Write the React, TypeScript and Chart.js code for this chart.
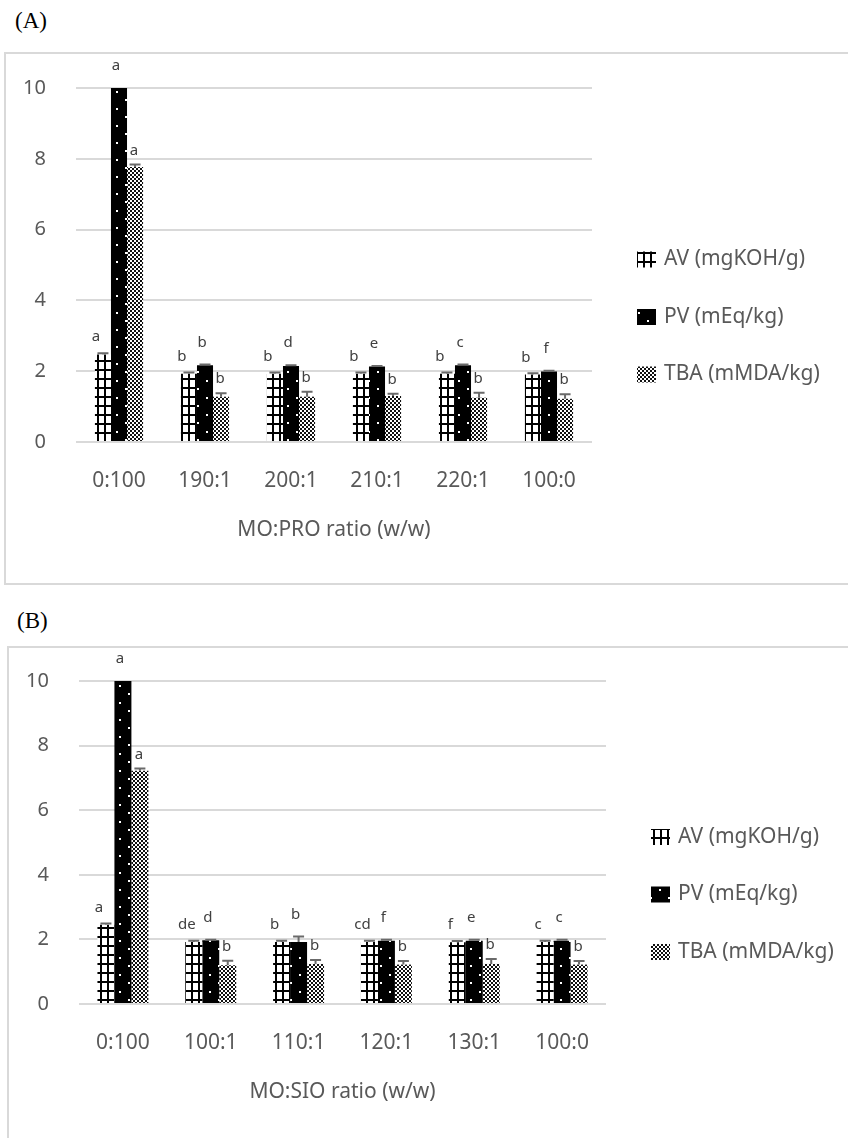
import React, { useEffect, useRef } from 'react';
import { Chart, registerables } from 'chart.js';

Chart.register(...registerables);

// ---------- shared ----------
const SERIES = ['AV (mgKOH/g)', 'PV (mEq/kg)', 'TBA (mMDA/kg)'];
const Y_MIN = 0;
const Y_MAX = 10;
const Y_STEP = 2;

// ---------- panel A ----------
const CATEGORIES_A = ['0:100', '190:1', '200:1', '210:1', '220:1', '100:0'];
const AV_A = [2.47, 1.93, 1.93, 1.93, 1.93, 1.91];
const AV_ERR_A = [0.04, 0.03, 0.03, 0.03, 0.03, 0.03];
const PV_A = [10, 2.17, 2.15, 2.13, 2.17, 1.99];
const PV_ERR_A = [0, 0.02, 0.02, 0.02, 0.02, 0.02];
const TBA_A = [7.77, 1.28, 1.28, 1.3, 1.25, 1.22];
const TBA_ERR_A = [0.07, 0.1, 0.14, 0.06, 0.14, 0.13];
const AV_LETTERS_A = ['a', 'b', 'b', 'b', 'b', 'b'];
const PV_LETTERS_A = ['a', 'b', 'd', 'e', 'c', 'f'];
const TBA_LETTERS_A = ['a', 'b', 'b', 'b', 'b', 'b'];
const X_TITLE_A = 'MO:PRO ratio (w/w)';

// ---------- panel B ----------
const CATEGORIES_B = ['0:100', '100:1', '110:1', '120:1', '130:1', '100:0'];
const AV_B = [2.45, 1.92, 1.92, 1.92, 1.91, 1.92];
const AV_ERR_B = [0.04, 0.04, 0.04, 0.04, 0.04, 0.04];
const PV_B = [10, 1.97, 1.92, 1.96, 1.96, 1.96];
const PV_ERR_B = [0, 0.02, 0.17, 0.03, 0.03, 0.03];
const TBA_B = [7.22, 1.2, 1.24, 1.22, 1.24, 1.22];
const TBA_ERR_B = [0.07, 0.14, 0.12, 0.11, 0.15, 0.11];
const AV_LETTERS_B = ['a', 'de', 'b', 'cd', 'f', 'c'];
const PV_LETTERS_B = ['a', 'd', 'b', 'f', 'e', 'c'];
const TBA_LETTERS_B = ['a', 'b', 'b', 'b', 'b', 'b'];
const X_TITLE_B = 'MO:SIO ratio (w/w)';

const FONT = '"Noto Sans", "DejaVu Sans", sans-serif';
const TEXT_GRAY = '#595959';
const LETTER_DX = [-7, -3, -1];
const LETTER_DY = [16, 22, 14];

function makeTiles(): HTMLCanvasElement[] {
  const mk = (w: number, h: number, draw: (g: CanvasRenderingContext2D) => void) => {
    const c = document.createElement('canvas');
    c.width = w;
    c.height = h;
    const g = c.getContext('2d') as CanvasRenderingContext2D;
    draw(g);
    return c;
  };
  const grid = mk(7, 9, (g) => {
    g.fillStyle = '#ffffff';
    g.fillRect(0, 0, 7, 9);
    g.fillStyle = '#000000';
    g.fillRect(0, 0, 2, 9);
    g.fillRect(0, 0, 7, 2);
  });
  const dots = mk(18, 17, (g) => {
    g.fillStyle = '#000000';
    g.fillRect(0, 0, 18, 17);
    g.fillStyle = '#ffffff';
    g.fillRect(2, 3, 2, 2);
    g.fillRect(11, 11, 2, 2);
  });
  const checker = mk(4, 4, (g) => {
    g.fillStyle = '#ffffff';
    g.fillRect(0, 0, 4, 4);
    g.fillStyle = '#111111';
    g.fillRect(0, 0, 2, 2);
    g.fillRect(2, 2, 2, 2);
  });
  return [grid, dots, checker];
}

type PanelProps = {
  categories: string[];
  values: number[][];
  errors: number[][];
  letters: string[][];
  xTitle: string;
  left: number;
  top: number;
  width: number;
  height: number;
  padTop: number;
  padRight: number;
  yAxisW: number;
  xAxisH: number;
  titlePad: number;
  catPct: number;
};

function Panel(p: PanelProps) {
  const ref = useRef<HTMLCanvasElement | null>(null);

  useEffect(() => {
    const canvas = ref.current;
    if (!canvas) return;
    const ctx = canvas.getContext('2d') as CanvasRenderingContext2D;
    const tiles = makeTiles();
    const patterns = tiles.map((t) => ctx.createPattern(t, 'repeat') as CanvasPattern);

    const overlay = {
      id: 'overlay',
      afterDatasetsDraw(chart: any) {
        const c = chart.ctx as CanvasRenderingContext2D;
        const ys = chart.scales.y;
        const area = chart.chartArea;
        c.save();
        chart.data.datasets.forEach((ds: any, i: number) => {
          const meta = chart.getDatasetMeta(i);
          meta.data.forEach((bar: any, j: number) => {
            const v = ds.data[j] as number;
            const e = p.errors[i][j];
            const yv = ys.getPixelForValue(Math.min(v, Y_MAX));
            const yt = ys.getPixelForValue(Math.min(v + e, Y_MAX));
            if (e > 0) {
              c.strokeStyle = '#6a6a6a';
              c.lineWidth = 2;
              c.beginPath();
              c.moveTo(bar.x, yv);
              c.lineTo(bar.x, yt);
              c.moveTo(bar.x - 5.5, yt);
              c.lineTo(bar.x + 5.5, yt);
              c.stroke();
            }
            c.fillStyle = '#404040';
            c.font = `15px ${FONT}`;
            c.textAlign = 'center';
            c.textBaseline = 'middle';
            c.fillText(p.letters[i][j], bar.x + LETTER_DX[i], yt - LETTER_DY[i]);
          });
        });
        // legend
        const cy0 = (area.top + area.bottom) / 2 + 52;
        chart.data.datasets.forEach((ds: any, i: number) => {
          const cy = cy0 + (i - 1) * 57.5;
          const ix = area.right + 45;
          c.fillStyle = ds.backgroundColor;
          c.fillRect(ix, cy - 8, 19, 16);
          c.fillStyle = TEXT_GRAY;
          c.font = `21px ${FONT}`;
          c.textAlign = 'left';
          c.textBaseline = 'middle';
          c.fillText(ds.label, area.right + 72, cy);
        });
        c.restore();
      },
    };

    const chart = new Chart(canvas, {
      type: 'bar',
      data: {
        labels: p.categories,
        datasets: SERIES.map((name, i) => ({
          label: name,
          data: p.values[i],
          backgroundColor: patterns[i],
          borderWidth: 0,
          categoryPercentage: p.catPct,
          barPercentage: 1,
        })),
      },
      options: {
        responsive: false,
        maintainAspectRatio: false,
        animation: false,
        devicePixelRatio: 1,
        layout: { padding: { top: p.padTop, right: p.padRight, bottom: 0, left: 0 } },
        plugins: {
          legend: { display: false },
          tooltip: { enabled: false },
          title: { display: false },
        },
        scales: {
          x: {
            grid: { display: false, drawTicks: false },
            border: { display: false },
            ticks: { color: TEXT_GRAY, font: { family: FONT, size: 21 }, padding: 26 },
            title: {
              display: true,
              text: p.xTitle,
              color: TEXT_GRAY,
              font: { family: FONT, size: 21 },
              padding: { top: 0, bottom: p.titlePad },
            },
            afterFit: (s: any) => {
              s.height = p.xAxisH;
            },
          },
          y: {
            min: Y_MIN,
            max: Y_MAX,
            ticks: { stepSize: Y_STEP, color: TEXT_GRAY, font: { family: FONT, size: 20 }, padding: 30 },
            grid: { color: '#d9d9d9', lineWidth: 2, drawTicks: false },
            border: { display: false },
            afterFit: (s: any) => {
              s.width = p.yAxisW;
              s.paddingTop = 12;
              s.paddingBottom = 12;
            },
          },
        },
      },
      plugins: [overlay],
    } as any);

    return () => chart.destroy();
  }, []);

  return (
    <canvas
      ref={ref}
      width={p.width}
      height={p.height}
      style={{ position: 'absolute', left: p.left, top: p.top, width: p.width, height: p.height }}
    />
  );
}

export default function App() {
  return (
    <div
      style={{
        position: 'absolute',
        left: 0,
        top: 0,
        width: 848,
        height: 1138,
        overflow: 'hidden',
        background: '#ffffff',
      }}
    >
      <div
        style={{
          position: 'absolute',
          left: 15,
          top: 7,
          fontFamily: '"Liberation Serif", "Times New Roman", serif',
          fontSize: 23,
          lineHeight: '28px',
          color: '#000',
        }}
      >
        (A)
      </div>
      <div
        style={{
          position: 'absolute',
          left: 4,
          top: 52,
          width: 900,
          height: 533,
          border: '2px solid #d9d9d9',
          boxSizing: 'border-box',
        }}
      />
      <Panel
        categories={CATEGORIES_A}
        values={[AV_A, PV_A, TBA_A]}
        errors={[AV_ERR_A, PV_ERR_A, TBA_ERR_A]}
        letters={[AV_LETTERS_A, PV_LETTERS_A, TBA_LETTERS_A]}
        xTitle={X_TITLE_A}
        left={6}
        top={54}
        width={842}
        height={528}
        padTop={34}
        padRight={256}
        yAxisW={70}
        xAxisH={140}
        titlePad={39}
        catPct={0.56}
      />
      <div
        style={{
          position: 'absolute',
          left: 17,
          top: 607,
          fontFamily: '"Liberation Serif", "Times New Roman", serif',
          fontSize: 23,
          lineHeight: '28px',
          color: '#000',
        }}
      >
        (B)
      </div>
      <div
        style={{
          position: 'absolute',
          left: 7,
          top: 646,
          width: 900,
          height: 600,
          border: '2px solid #d9d9d9',
          boxSizing: 'border-box',
        }}
      />
      <Panel
        categories={CATEGORIES_B}
        values={[AV_B, PV_B, TBA_B]}
        errors={[AV_ERR_B, PV_ERR_B, TBA_ERR_B]}
        letters={[AV_LETTERS_B, PV_LETTERS_B, TBA_LETTERS_B]}
        xTitle={X_TITLE_B}
        left={9}
        top={648}
        width={839}
        height={495}
        padTop={33}
        padRight={242}
        yAxisW={70}
        xAxisH={139}
        titlePad={38}
        catPct={0.58}
      />
    </div>
  );
}
